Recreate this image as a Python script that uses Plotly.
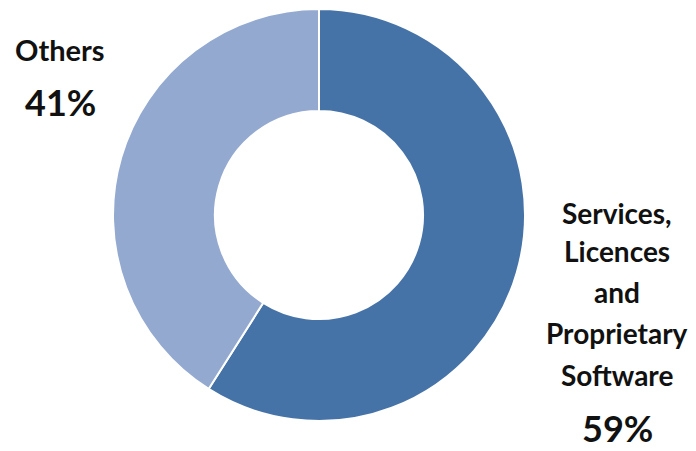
import plotly.graph_objects as go

labels = ["Services, Licences and Proprietary Software", "Others"]
label_lines = [["Services,", "Licences", "and", "Proprietary", "Software"], ["Others"]]
values = [59, 41]
colors = ["#4673A7", "#93A9D0"]

W, H = 696, 451

fig = go.Figure()
fig.add_trace(go.Pie(
    labels=labels,
    values=values,
    hole=0.505,
    sort=False,
    direction="clockwise",
    rotation=0,
    textinfo="none",
    hoverinfo="label+percent",
    marker=dict(colors=colors, line=dict(color="white", width=2)),
    domain=dict(x=[113 / W, 525 / W], y=[1 - 421 / H, 1 - 9 / H]),
    showlegend=False,
))

font_name = "Lato"
ann = []
# Right label (first slice)
right_x = 617
right_y = [213, 251, 292, 333, 375]
for line, yy in zip(label_lines[0], right_y):
    ann.append(dict(x=right_x / W, y=1 - yy / H, xref="paper", yref="paper",
                    text="<b>" + line + "</b>", showarrow=False, xanchor="center", yanchor="middle",
                    font=dict(family=font_name, size=28, color="#111111")))
ann.append(dict(x=right_x / W, y=1 - 428 / H, xref="paper", yref="paper",
                text="<b>%d%%</b>" % values[0], showarrow=False, xanchor="center", yanchor="middle",
                font=dict(family=font_name, size=36, color="#111111")))
# Left label (second slice)
left_x = 60
ann.append(dict(x=left_x / W, y=1 - 50 / H, xref="paper", yref="paper",
                text="<b>" + label_lines[1][0] + "</b>", showarrow=False, xanchor="center", yanchor="middle",
                font=dict(family=font_name, size=29, color="#111111")))
ann.append(dict(x=left_x / W, y=1 - 102 / H, xref="paper", yref="paper",
                text="<b>%d%%</b>" % values[1], showarrow=False, xanchor="center", yanchor="middle",
                font=dict(family=font_name, size=36, color="#111111")))

fig.update_layout(
    width=W, height=H,
    margin=dict(l=0, r=0, t=0, b=0),
    paper_bgcolor="white", plot_bgcolor="white",
    annotations=ann,
)

fig.write_html("out.html")
